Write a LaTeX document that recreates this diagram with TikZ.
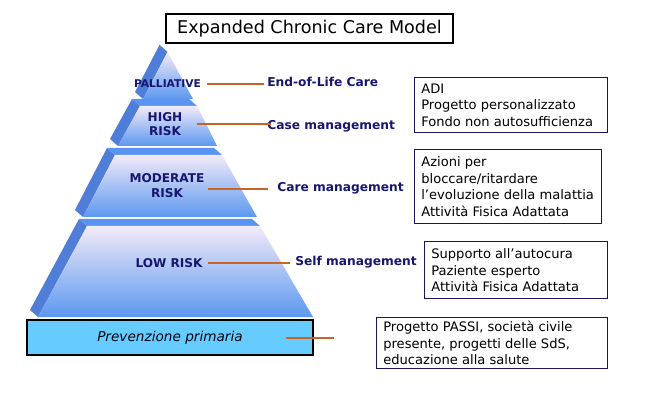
\documentclass[tikz,border=0pt]{standalone}
\usepackage{fontspec}
\setmainfont{DejaVu Sans}

\definecolor{pyrtop}{RGB}{242,234,248}
\definecolor{pyrmid}{RGB}{160,196,242}
\definecolor{pyrbot}{RGB}{92,152,240}
\definecolor{bandcol}{RGB}{90,148,242}
\definecolor{bevelcol}{RGB}{80,125,215}
\definecolor{prevfill}{RGB}{102,204,255}
\definecolor{linkcol}{RGB}{200,100,40}
\definecolor{navy}{RGB}{22,22,112}
\definecolor{boxline}{RGB}{30,20,90}

\tikzset{
    lvl/.style={font=\bfseries\fontsize{8.6}{10.5}\selectfont, text=navy, inner sep=0pt, align=center},
    act/.style={font=\bfseries\fontsize{8.7}{10}\selectfont, text=navy, inner sep=0pt, anchor=base west},
    link/.style={draw=linkcol, line width=0.9pt},
    infobox/.style={draw=boxline, line width=0.9pt, anchor=north west, inner sep=0pt},
    infotext/.style={font=\fontsize{9.3}{11.7}\selectfont, align=left, anchor=west, inner sep=0pt}
}

\begin{document}
\begin{tikzpicture}[x=0.025cm, y=-0.025cm]
        \useasboundingbox (0,0) rectangle (670,412);

        \node[draw, line width=1pt, minimum width=7.175cm, minimum height=0.725cm,
            font=\fontsize{12.5}{14}\selectfont] (title) at (309.5,28.5) {Expanded Chronic Care Model};

        % pyramid, top to bottom
        \foreach \tl/\tr/\bl/\br/\yt/\yb in {167.5/167.5/143/193/52/99, 140/197/118/217/106/146,
                115/222/83/257/155/217, 87/260/38/313/226/317} {
            \fill[bevelcol] ({\tl-8},{\yt-7}) -- (\tl,\yt) -- (\bl,\yb) -- ({\bl-8},{\yb-7}) -- cycle;
            \fill[bandcol] ({\tl-8},{\yt-7}) -- ({\tr-8},{\yt-7}) -- (\tr,\yt) -- (\tl,\yt) -- cycle;
            \shade[top color=pyrtop, middle color=pyrmid, bottom color=pyrbot]
                (\tl,\yt) -- (\tr,\yt) -- (\br,\yb) -- (\bl,\yb) -- cycle;
        }

        \node[lvl, font=\bfseries\fontsize{7.6}{9}\selectfont] (pal) at (167.5,84) {PALLIATIVE};
        \node[lvl] (high) at (165,124) {HIGH\\RISK};
        \node[lvl] (mod) at (167,185.5) {MODERATE\\RISK};
        \node[lvl] (low) at (169,263) {LOW RISK};
        \node[draw, fill=prevfill, line width=0.9pt, minimum width=7.15cm, minimum height=0.875cm,
            font=\itshape\fontsize{9.7}{11}\selectfont, text=black!85!navy] (prev) at (170,337.5) {Prevenzione primaria};

        \node[act] (eol) at (267,87) {End-of-Life Care};
        \node[act] (case) at (267,130) {Case management};
        \node[act] (care) at (277,192) {Care management};
        \node[act] (self) at (295,266) {Self management};

        \node[infobox, minimum width=4.825cm, minimum height=1.375cm] (b1) at (414,77) {};
        \node[infotext] (t1) at ([xshift=5pt]b1.west) {ADI\\Progetto personalizzato\\Fondo non autosufficienza};
        \node[infobox, minimum width=4.675cm, minimum height=1.85cm] (b2) at (414,149) {};
        \node[infotext] (t2) at ([xshift=5pt]b2.west) {Azioni per\\bloccare/ritardare\\l’evoluzione della malattia\\Attività Fisica Adattata};
        \node[infobox, minimum width=4.575cm, minimum height=1.425cm] (b3) at (424,241) {};
        \node[infotext] (t3) at ([xshift=5pt]b3.west) {Supporto all’autocura\\Paziente esperto\\Attività Fisica Adattata};
        \node[infobox, minimum width=5.775cm, minimum height=1.275cm] (b4) at (376,317) {};
        \node[infotext] (t4) at ([xshift=5pt]b4.west) {Progetto PASSI, società civile\\presente, progetti delle SdS,\\educazione alla salute};

        \draw[link, shorten >=6pt] ([xshift=4pt]pal.east) -- ([xshift=4pt]pal.east -| eol.west);
        \draw[link, shorten >=7pt] ([xshift=10pt]high.east) -- ([xshift=10pt]high.east -| case.west);
        \draw[link, shorten >=8.5pt] ([xshift=2pt,yshift=-2.5pt]mod.east) -- ([xshift=2pt,yshift=-2.5pt]mod.east -| care.west);
        \draw[link, shorten >=7pt] ([xshift=3.5pt]low.east) -- ([xshift=3.5pt]low.east -| self.west);
        \draw[link, shorten >=10pt] ([xshift=-20pt,yshift=-0.36pt]prev.east) -- ([xshift=-20pt,yshift=-0.36pt]prev.east -| b4.west);
\end{tikzpicture}
\end{document}
